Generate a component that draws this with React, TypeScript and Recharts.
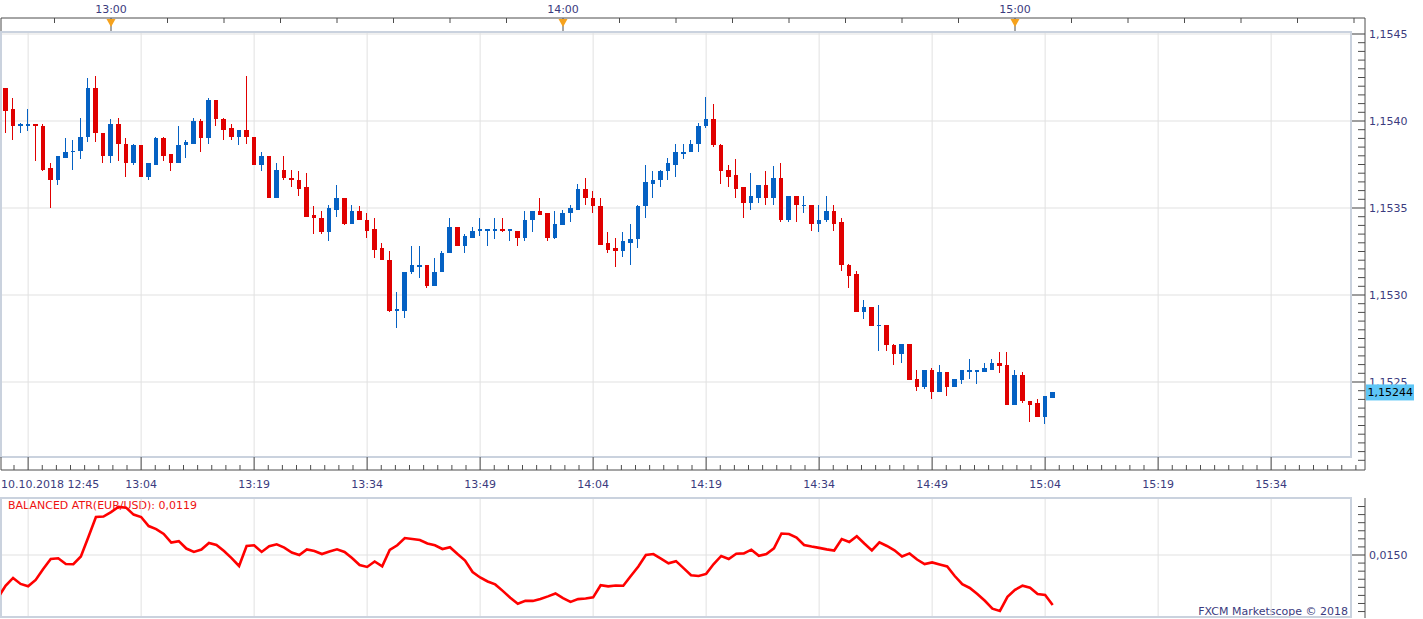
import React from 'react';
import { ComposedChart, LineChart, Line, Bar, XAxis, YAxis, CartesianGrid, ReferenceArea } from 'recharts';

// ---------------- data ----------------
const startLabel = '10.10.2018 12:45';
const startTime = '12:45';

const opens = [
  1.15429, 1.15419, 1.15407, 1.15397, 1.15397, 1.15398, 1.15397, 1.15373, 1.15366, 1.15379,
  1.15382, 1.15383, 1.15391, 1.15419, 1.15393, 1.1538, 1.15398, 1.15387, 1.15376, 1.15386,
  1.15368, 1.15375, 1.1539, 1.15381, 1.15376, 1.15386, 1.15387, 1.154, 1.1539, 1.15412,
  1.15401, 1.15396, 1.15391, 1.15395, 1.15391, 1.15375, 1.1538, 1.15356, 1.15372, 1.15367,
  1.15366, 1.15362, 1.15346, 1.15344, 1.15336, 1.15349, 1.15356, 1.15341, 1.15348, 1.15343,
  1.15338, 1.15327, 1.1532, 1.15291, 1.15291, 1.15313, 1.15316, 1.15317, 1.15305, 1.15313,
  1.15324, 1.15339, 1.15328, 1.15333, 1.15337, 1.15337, 1.15337, 1.15338, 1.15337, 1.15337,
  1.15333, 1.15343, 1.15348, 1.15347, 1.15333, 1.1534, 1.15347, 1.15349, 1.15361, 1.15356,
  1.15351, 1.1533, 1.15327, 1.15325, 1.1533, 1.15332, 1.15351, 1.15364, 1.15366, 1.15371,
  1.15375, 1.15381, 1.15382, 1.15387, 1.15397, 1.15401, 1.15386, 1.15372, 1.15369, 1.15362,
  1.15353, 1.15356, 1.15363, 1.15356, 1.15367, 1.15343, 1.15357, 1.15351, 1.15352, 1.15341,
  1.15343, 1.15348, 1.15342, 1.15317, 1.15312, 1.1529, 1.15293, 1.15282, 1.15283, 1.15271,
  1.15266, 1.15272, 1.15252, 1.15247, 1.15257, 1.15244, 1.15256, 1.15247, 1.15251, 1.15256,
  1.15256, 1.15256, 1.15257, 1.15261, 1.1526, 1.15237, 1.15254, 1.15239, 1.15238, 1.1523,
  1.15241,
];

const highs = [
  1.15429, 1.15419, 1.15413, 1.15399, 1.15407, 1.15398, 1.15398, 1.15376, 1.1538, 1.1539,
  1.15389, 1.15402, 1.15425, 1.15426, 1.15393, 1.15401, 1.15402, 1.1539, 1.15387, 1.15386,
  1.15376, 1.15391, 1.15391, 1.15381, 1.15397, 1.15389, 1.15402, 1.15401, 1.15413, 1.15412,
  1.15402, 1.15398, 1.15395, 1.15426, 1.15391, 1.15382, 1.1538, 1.15376, 1.1538, 1.15372,
  1.15371, 1.1537, 1.15351, 1.15348, 1.15352, 1.15363, 1.15356, 1.15352, 1.15351, 1.15347,
  1.15344, 1.1533, 1.15325, 1.15302, 1.15313, 1.15328, 1.15328, 1.15317, 1.15321, 1.15325,
  1.15344, 1.15339, 1.15335, 1.15339, 1.15344, 1.15338, 1.15344, 1.15344, 1.15338, 1.15337,
  1.15348, 1.15348, 1.15356, 1.15347, 1.15348, 1.15349, 1.15352, 1.15364, 1.15367, 1.1536,
  1.15356, 1.15336, 1.15333, 1.15336, 1.15341, 1.15352, 1.15375, 1.15371, 1.15372, 1.15379,
  1.15387, 1.15387, 1.15389, 1.15399, 1.15414, 1.1541, 1.15387, 1.15375, 1.15378, 1.15362,
  1.1537, 1.15363, 1.15371, 1.15374, 1.15376, 1.15357, 1.15357, 1.15357, 1.15352, 1.15352,
  1.15357, 1.15352, 1.15344, 1.15318, 1.15314, 1.15297, 1.15293, 1.15294, 1.15283, 1.15272,
  1.15272, 1.15272, 1.15257, 1.15257, 1.15258, 1.1526, 1.15256, 1.15252, 1.15257, 1.15263,
  1.15257, 1.15261, 1.15263, 1.15267, 1.15267, 1.15257, 1.15256, 1.15239, 1.1524, 1.15242,
  1.15244,
];

const lows = [
  1.15417, 1.15393, 1.15389, 1.15393, 1.15394, 1.15377, 1.15371, 1.1535, 1.15363, 1.15379,
  1.15372, 1.15378, 1.15388, 1.15388, 1.15376, 1.15376, 1.15377, 1.15368, 1.15375, 1.15368,
  1.15366, 1.15375, 1.15377, 1.15371, 1.15376, 1.15379, 1.15387, 1.15382, 1.15387, 1.15397,
  1.15389, 1.15389, 1.15386, 1.15387, 1.15375, 1.15371, 1.15356, 1.15356, 1.15366, 1.15362,
  1.15357, 1.15345, 1.15335, 1.15335, 1.15331, 1.15345, 1.1534, 1.15341, 1.15343, 1.15333,
  1.15321, 1.1532, 1.1529, 1.15281, 1.15287, 1.15312, 1.1531, 1.15304, 1.15305, 1.15313,
  1.15324, 1.15328, 1.15324, 1.15333, 1.15334, 1.15328, 1.15332, 1.15336, 1.15331, 1.15328,
  1.15331, 1.15336, 1.15346, 1.15331, 1.15332, 1.1534, 1.15342, 1.15349, 1.15352, 1.15347,
  1.15329, 1.15324, 1.15316, 1.15322, 1.15317, 1.15327, 1.15344, 1.15356, 1.15362, 1.15366,
  1.15368, 1.15378, 1.15382, 1.15382, 1.15396, 1.15385, 1.15364, 1.15362, 1.15356, 1.15344,
  1.15349, 1.15353, 1.15352, 1.15352, 1.15342, 1.15342, 1.15342, 1.15347, 1.15337, 1.15336,
  1.15342, 1.15337, 1.15314, 1.15304, 1.1529, 1.15286, 1.15282, 1.15268, 1.15268, 1.1526,
  1.15261, 1.15251, 1.15245, 1.15246, 1.1524, 1.15244, 1.15242, 1.15247, 1.15249, 1.15252,
  1.15249, 1.15256, 1.15257, 1.15255, 1.15237, 1.15237, 1.15238, 1.15227, 1.1523, 1.15226,
  1.15241,
];

const closes = [
  1.15418, 1.15406, 1.15397, 1.15398, 1.15398, 1.15397, 1.15372, 1.15366, 1.1538, 1.15382,
  1.15383, 1.15391, 1.15419, 1.15393, 1.1538, 1.15398, 1.15387, 1.15376, 1.15386, 1.15368,
  1.15376, 1.1539, 1.1538, 1.15376, 1.15386, 1.15388, 1.154, 1.1539, 1.15412, 1.15401,
  1.15395, 1.15391, 1.15395, 1.15391, 1.15375, 1.1538, 1.15356, 1.15372, 1.15367, 1.15366,
  1.15361, 1.15345, 1.15344, 1.15336, 1.1535, 1.15356, 1.15341, 1.15348, 1.15343, 1.15337,
  1.15326, 1.1532, 1.15291, 1.15292, 1.15313, 1.15317, 1.15317, 1.15305, 1.15313, 1.15324,
  1.15339, 1.15328, 1.15334, 1.15337, 1.15338, 1.15338, 1.15338, 1.15337, 1.15338, 1.15333,
  1.15343, 1.15348, 1.15346, 1.15333, 1.15341, 1.15347, 1.1535, 1.15361, 1.15356, 1.15351,
  1.15329, 1.15326, 1.15325, 1.15331, 1.15332, 1.15351, 1.15365, 1.15366, 1.15371, 1.15376,
  1.15382, 1.15382, 1.15387, 1.15397, 1.15401, 1.15386, 1.15371, 1.15368, 1.15361, 1.15353,
  1.15357, 1.15363, 1.15356, 1.15367, 1.15343, 1.15357, 1.15352, 1.15352, 1.15341, 1.15343,
  1.15348, 1.15341, 1.15317, 1.15311, 1.1529, 1.15293, 1.15282, 1.15283, 1.15271, 1.15266,
  1.15272, 1.15251, 1.15247, 1.15257, 1.15244, 1.15256, 1.15247, 1.15252, 1.15257, 1.15257,
  1.15257, 1.15258, 1.15261, 1.15259, 1.15237, 1.15254, 1.15239, 1.15237, 1.1523, 1.15242,
  1.15244,
];

const atrValues = [
  0.01235, 0.01309, 0.01358, 0.01321, 0.01306, 0.01346, 0.01414, 0.01475, 0.0148, 0.01444,
  0.01443, 0.01491, 0.01611, 0.01735, 0.01738, 0.01765, 0.01798, 0.01793, 0.0175, 0.01735,
  0.01679, 0.0166, 0.0163, 0.01577, 0.01586, 0.0154, 0.01519, 0.01534, 0.01574, 0.01562,
  0.01525, 0.01481, 0.01432, 0.01556, 0.0156, 0.01519, 0.01554, 0.01566, 0.01546, 0.01515,
  0.015, 0.01534, 0.01525, 0.01506, 0.01522, 0.01535, 0.01519, 0.01481, 0.01438, 0.01426,
  0.0146, 0.0143, 0.01531, 0.0156, 0.01605, 0.01599, 0.01593, 0.01571, 0.0156, 0.01537,
  0.01548, 0.01506, 0.01466, 0.01395, 0.01361, 0.01336, 0.01318, 0.01278, 0.01235, 0.01198,
  0.01216, 0.01216, 0.01228, 0.01244, 0.01262, 0.01233, 0.0121, 0.01227, 0.01231, 0.01238,
  0.01313, 0.01306, 0.01311, 0.0131, 0.0137, 0.01429, 0.015, 0.01506, 0.01478, 0.01449,
  0.01462, 0.01419, 0.01375, 0.0137, 0.01383, 0.01444, 0.01494, 0.01475, 0.01508, 0.0151,
  0.01533, 0.01495, 0.01506, 0.01541, 0.01633, 0.0163, 0.01608, 0.01562, 0.01552, 0.01544,
  0.01535, 0.01528, 0.01599, 0.0158, 0.01616, 0.01571, 0.01528, 0.01578, 0.01556, 0.01529,
  0.01491, 0.0151, 0.01472, 0.01444, 0.01454, 0.01441, 0.01429, 0.0137, 0.01319, 0.01296,
  0.01259, 0.01217, 0.01168, 0.01154, 0.01241, 0.01284, 0.0131, 0.01298, 0.01259, 0.01253,
  0.01191,
];

const gridTimes = ['12:49', '13:04', '13:19', '13:34', '13:49', '14:04', '14:19', '14:34', '14:49', '15:04', '15:19', '15:34'];
const bottomLabels = ['13:04', '13:19', '13:34', '13:49', '14:04', '14:19', '14:34', '14:49', '15:04', '15:19', '15:34'];
const topLabels = ['13:00', '14:00', '15:00'];
const priceLevels = [1.1525, 1.153, 1.1535, 1.154, 1.1545];
const atrLevels = [0.015];
const atrTitle = 'BALANCED ATR(EUR/USD): 0,0119';
const copyright = 'FXCM Marketscope \u00A9 2018';

// ---------------- style / layout ----------------
const FONT = '"DejaVu Sans", Verdana, sans-serif';
const TEXT = '#3b3b7e';
const AXIS = '#4d4d4d';
const GRID = '#e1e1e1';
const FRAME = '#cad2de';
const UP = '#0561c3';
const DOWN = '#e00000';

const W = 1423;
const PX_MIN0 = -2; // pixel of first candle
const PX_PER_MIN = 113 / 15;
const xAt = (px: number) => (px - PX_MIN0) / PX_PER_MIN;
const X_DOMAIN: [number, number] = [xAt(1), xAt(1365)];
const priceAt = (py: number) => 1.1545 - ((py - 34) * 0.0005) / 87;
const Y_DOMAIN: [number, number] = [priceAt(470), priceAt(18)];
const atrAt = (py: number) => 0.015 - ((py - 555) * 0.0005) / 8.08;
const ATR_DOMAIN: [number, number] = [atrAt(618), atrAt(498)];

const toMin = (s: string) => {
  const [h, m] = s.split(':').map(Number);
  const [h0, m0] = startTime.split(':').map(Number);
  return h * 60 + m - (h0 * 60 + m0);
};
const fmtTime = (v: number) => {
  const [h0, m0] = startTime.split(':').map(Number);
  const t = Math.round(h0 * 60 + m0 + v);
  return `${Math.floor(t / 60)}:${String(t % 60).padStart(2, '0')}`;
};
const near = (a: number, b: number, eps = 1e-7) => Math.abs(a - b) < eps;

const rows = opens.map((o, i) => ({
  t: i,
  open: o,
  high: highs[i],
  low: lows[i],
  close: closes[i],
  range: [lows[i], highs[i]],
  atr: atrValues[i],
}));
const lastClose = closes[closes.length - 1];

const gridX = gridTimes.map(toMin);
const labelX = bottomLabels.map(toMin);
const hourX = topLabels.map(toMin);

const bottomTicks: number[] = [X_DOMAIN[0]];
{
  const step = 15 / 8;
  for (let k = -8; k < 200; k++) {
    const v = gridX[0] + k * step;
    if (v > X_DOMAIN[0] + 0.5 && v <= xAt(1358)) bottomTicks.push(v);
  }
}
const topTicks: number[] = [X_DOMAIN[0]];
for (let k = -4; k < 40; k++) {
  const v = hourX[0] + k * 7.5;
  if (v > X_DOMAIN[0] + 0.5 && v <= xAt(1358)) topTicks.push(v);
}
const priceTicks: number[] = [];
for (let k = 1; k <= 50; k++) priceTicks.push(1.152 + k * 0.00005);
priceTicks.push(lastClose);
const atrTicks: number[] = [];
for (let k = 0; k <= 13; k++) atrTicks.push(0.0115 + k * 0.0005);

// ---------------- renderers ----------------
const Candle = (props: any) => {
  const { x, y, width, height, payload } = props;
  if (x == null || y == null || !payload) return null;
  const { open, close, high, low } = payload;
  const top = Math.min(y, y + height);
  const h = Math.abs(height);
  const k = high > low ? h / (high - low) : 0;
  const yOf = (v: number) => top + (high - v) * k;
  const cx = x + width / 2;
  const color = close >= open ? UP : DOWN;
  const L = Math.round(cx - 2.25);
  const R = Math.round(cx + 2.25);
  const wickX = Math.floor((L + R) / 2 - 0.5);
  let bT = Math.round(yOf(Math.max(open, close)));
  let bB = Math.round(yOf(Math.min(open, close)));
  if (bB - bT < 1) bB = bT + 1;
  const wT = Math.round(top);
  const wB = Math.round(top + h);
  return (
    <g>
      <rect x={wickX} y={wT} width={1} height={Math.max(wB - wT, 1)} fill={color} />
      <rect x={L} y={bT} width={R - L} height={bB - bT} fill={color} />
    </g>
  );
};

const txt = { fontFamily: FONT, fontSize: 11 } as const;

const BottomTick = (p: any) => {
  const { x, y, payload } = p;
  const v = payload.value;
  if (near(v, X_DOMAIN[0])) {
    return (
      <g>
        <line x1={x} y1={y - 13} x2={x} y2={y} stroke={AXIS} />
        <text x={x} y={y + 17.5} textAnchor="start" fill={TEXT} {...txt}>{startLabel}</text>
      </g>
    );
  }
  const major = gridX.some((g) => near(g, v, 1e-4));
  const labelled = labelX.some((g) => near(g, v, 1e-4));
  return (
    <g>
      <line x1={x} y1={y - (major ? 13 : 5)} x2={x} y2={y} stroke={AXIS} />
      {labelled && (
        <text x={x} y={y + 17.5} textAnchor="middle" fill={TEXT} {...txt}>{fmtTime(v)}</text>
      )}
    </g>
  );
};

const TopTick = (p: any) => {
  const { x, y, payload } = p;
  const v = payload.value;
  if (near(v, X_DOMAIN[0])) return <line x1={x} y1={y} x2={x} y2={y + 13} stroke={AXIS} />;
  const hour = hourX.findIndex((h) => near(h, v, 1e-4));
  if (hour >= 0) {
    return (
      <g>
        <line x1={x} y1={y} x2={x} y2={y + 13} stroke={AXIS} />
        <polygon points={`${x - 4.5},${y + 1} ${x + 4.5},${y + 1} ${x},${y + 9}`} fill="#f6a21c" />
        <text x={x} y={y - 5.5} textAnchor="middle" fill={TEXT} {...txt}>{topLabels[hour]}</text>
      </g>
    );
  }
  return <line x1={x} y1={y} x2={x} y2={y + 5} stroke={AXIS} />;
};

const PriceTick = (p: any) => {
  const { x, y, payload } = p;
  const v = payload.value;
  if (v === lastClose && payload.index === priceTicks.length - 1) {
    return (
      <g>
        <rect x={x + 1} y={y - 8} width={48} height={16} fill="#5ec6f6" />
        <text x={x + 2.5} y={y + 4} fill="#000" {...txt}>{v.toFixed(5).replace('.', ',')}</text>
      </g>
    );
  }
  const major = priceLevels.some((l) => near(l, v));
  return (
    <g>
      <line x1={x - (major ? 13 : 7)} y1={y} x2={x} y2={y} stroke={AXIS} />
      {major && (
        <text x={x + 4} y={y + 4} fill={TEXT} {...txt}>{v.toFixed(4).replace('.', ',')}</text>
      )}
    </g>
  );
};

const AtrTick = (p: any) => {
  const { x, y, payload } = p;
  const v = payload.value;
  const major = atrLevels.some((l) => near(l, v));
  return (
    <g>
      <line x1={x - (major ? 13 : 7)} y1={y} x2={x} y2={y} stroke={AXIS} />
      {major && (
        <text x={x + 4} y={y + 4} fill={TEXT} {...txt}>{v.toFixed(4).replace('.', ',')}</text>
      )}
    </g>
  );
};

export default function App() {
  return (
    <div style={{ position: 'absolute', left: 0, top: 0, width: W, height: 619, background: '#fff', overflow: 'hidden' }}>
      <div
        style={{
          position: 'absolute', left: 8, top: 499, fontFamily: FONT, fontSize: 11, lineHeight: '13px',
          color: '#ee1111', whiteSpace: 'nowrap',
        }}
      >
        {atrTitle}
      </div>
      <div
        style={{
          position: 'absolute', right: W - 1348, top: 604.5, fontFamily: FONT, fontSize: 11, lineHeight: '13px',
          color: TEXT, whiteSpace: 'nowrap', textAlign: 'right',
        }}
      >
        {copyright}
      </div>

      <div style={{ position: 'absolute', left: 0, top: 0 }}>
        <ComposedChart width={W} height={495} data={rows} margin={{ top: 0, right: 0, bottom: 0, left: 1 }}>
          <CartesianGrid
            xAxisId="b"
            yAxisId="p"
            stroke={GRID}
            verticalValues={gridX}
            horizontalValues={priceLevels}
          />
          <ReferenceArea
            xAxisId="b" yAxisId="p"
            x1={X_DOMAIN[0]} x2={X_DOMAIN[1]} y1={priceAt(31)} y2={Y_DOMAIN[1]}
            fill="#ffffff" fillOpacity={1} stroke="none" ifOverflow="visible"
          />
          <ReferenceArea
            xAxisId="b" yAxisId="p"
            x1={X_DOMAIN[0]} x2={xAt(1351)} y1={priceAt(457)} y2={priceAt(32)}
            fill="none" stroke={FRAME} strokeWidth={2} ifOverflow="visible"
          />
          <Bar
            xAxisId="b" yAxisId="p" dataKey="range" barSize={5}
            shape={Candle} isAnimationActive={false}
          />
          <XAxis
            xAxisId="b" dataKey="t" type="number" domain={X_DOMAIN} allowDataOverflow
            ticks={bottomTicks} interval={0} tick={BottomTick} tickLine={false}
            tickSize={0} tickMargin={0} axisLine={{ stroke: AXIS }} height={25}
          />
          <XAxis
            xAxisId="t" orientation="top" dataKey="t" type="number" domain={X_DOMAIN} allowDataOverflow
            ticks={topTicks} interval={0} tick={TopTick} tickLine={false}
            tickSize={0} tickMargin={0} axisLine={{ stroke: AXIS }} height={18}
          />
          <YAxis
            yAxisId="p" orientation="right" type="number" domain={Y_DOMAIN} allowDataOverflow
            ticks={priceTicks} interval={0} tick={PriceTick} tickLine={false}
            tickSize={0} tickMargin={0} axisLine={{ stroke: AXIS }} width={58}
          />
        </ComposedChart>
      </div>

      <div style={{ position: 'absolute', left: 0, top: 495 }}>
        <LineChart width={W} height={124} data={rows} margin={{ top: 3, right: 0, bottom: 1, left: 1 }}>
          <CartesianGrid
            xAxisId="b"
            yAxisId="a"
            stroke={GRID}
            verticalValues={gridX}
            horizontalValues={atrLevels}
          />
          <ReferenceArea
            xAxisId="b" yAxisId="a"
            x1={X_DOMAIN[0]} x2={xAt(1351)} y1={atrAt(617)} y2={atrAt(498)}
            fill="none" stroke={FRAME} strokeWidth={2} ifOverflow="visible"
          />
          <XAxis xAxisId="b" dataKey="t" type="number" domain={X_DOMAIN} allowDataOverflow hide />
          <YAxis
            yAxisId="a" orientation="right" type="number" domain={ATR_DOMAIN} allowDataOverflow
            ticks={atrTicks} interval={0} tick={AtrTick} tickLine={false}
            tickSize={0} tickMargin={0} axisLine={{ stroke: AXIS }} width={58}
          />
          <Line
            xAxisId="b" yAxisId="a" dataKey="atr" type="linear" stroke="#ff0000" strokeWidth={2.6}
            dot={false} activeDot={false} isAnimationActive={false}
          />
        </LineChart>
      </div>
    </div>
  );
}
